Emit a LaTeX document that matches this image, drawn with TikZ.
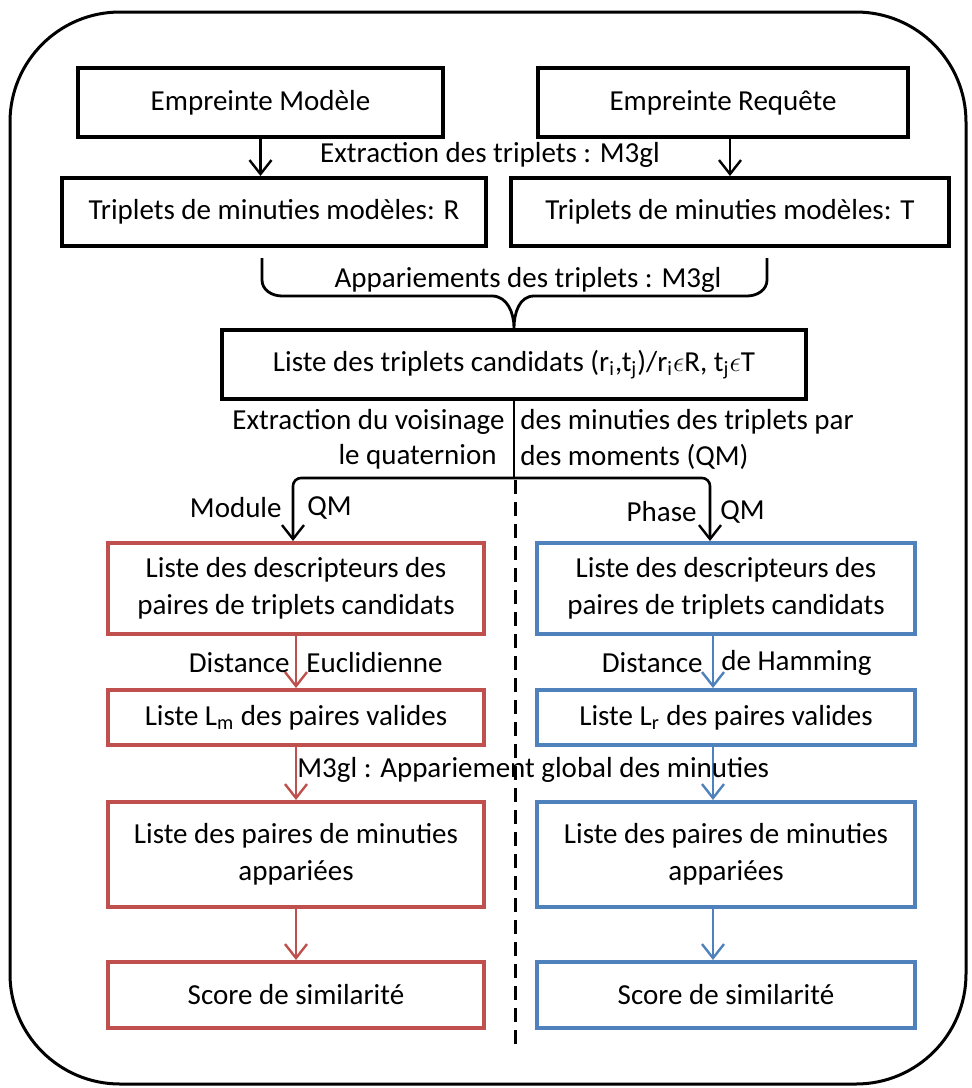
\documentclass[tikz,border=0pt]{standalone}
\usepackage{fontspec}
\setmainfont{Carlito}
\usetikzlibrary{arrows.meta}
\definecolor{redline}{HTML}{C0504D}
\definecolor{blueline}{HTML}{4F81BD}

\begin{document}
\begin{tikzpicture}[x=0.5pt,y=-0.5pt,
  every node/.style={font=\fontsize{14.5}{18.5}\selectfont, inner sep=0pt},
  blackbox/.style={draw=black, line width=2pt, align=center},
  redbox/.style={draw=redline, line width=2pt, align=center, minimum width=188pt},
  bluebox/.style={draw=blueline, line width=2pt, align=center, minimum width=189pt},
  tip/.style={-{Straight Barb[length=7pt,width=11pt,line width=1.2pt]}},
  blackarrow/.style={tip, line width=1.3pt, draw=black},
  redarrow/.style={tip, line width=1.2pt, draw=redline},
  bluearrow/.style={tip, line width=1.2pt, draw=blueline},
  lbl/.style={text=black}
]
\useasboundingbox (0,0) rectangle (972,1088);

% outer frame
\draw[line width=1.5pt, rounded corners=55pt] (10,12) rectangle (966,1084);

% input fingerprints
\node[blackbox, minimum width=182.5pt, minimum height=34.5pt] (em) at (260.5,102.5) {Empreinte Modèle};
\node[blackbox, minimum width=185pt, minimum height=34.5pt] (er) at (723,102.5) {Empreinte Requête};

% triplets
\node[blackbox, minimum width=212pt, minimum height=34pt] (tr) at (274,212) {Triplets de minuties modèles: R};
\node[blackbox, minimum width=219pt, minimum height=34pt] (tt) at (730,212) {Triplets de minuties modèles: T};

\draw[blackarrow] (em.south) -- (em.south |- tr.north);
\draw[blackarrow] (er.south -| tt.north) -- (tt.north);
\node[lbl] (lext) at (490,155) {Extraction des triplets : M3gl};

% candidate triplets
\node[blackbox, minimum width=292pt, minimum height=34.5pt] (cand) at (514,364.5)
  {Liste des triplets candidats (r\textsubscript{i},t\textsubscript{j})/r\textsubscript{i}$\epsilon$R, t\textsubscript{j}$\epsilon$T};

% brace joining both triplet sets
\coordinate (bl) at (262,258);
\coordinate (br) at (767,258);
\draw[line width=1.4pt] (bl) -- (262,280) to[out=-90,in=180] (282,296) -- (492,296)
  to[out=0,in=90] (cand.north) to[out=90,in=180] (534,296) -- (747,296)
  to[out=0,in=-90] (767,280) -- (br);
\node[lbl] (lapp) at (528,280) {Appariements des triplets : M3gl};

% split towards both descriptors
\coordinate (j) at (cand.south |- 0,478);
\coordinate (lx) at (293,0);
\coordinate (rx) at (710,0);
\draw[line width=1.3pt] (cand.south) -- (j);

\node[lbl, anchor=east] (lv1) at (505,422) {Extraction du voisinage};
\node[lbl, anchor=east] (lv2) at (497,457) {le quaternion};
\node[lbl, anchor=west] (rv1) at (520,422) {des minuties des triplets par};
\node[lbl, anchor=west] (rv2) at (520,457) {des moments (QM)};

% separator
\draw[line width=1.5pt, dash pattern=on 7pt off 4pt] (515,480) -- (515,1050);

% red branch
\node[redbox, minimum height=45.5pt] (r1) at (296,588.5) {Liste des descripteurs des\\paires de triplets candidats};
\node[redbox, minimum height=27.5pt] (r2) at (296,717.5) {Liste L\textsubscript{m} des paires valides};
\node[redbox, minimum height=52.5pt] (r3) at (296,854.5) {Liste des paires de minuties\\appariées};
\node[redbox, minimum height=33pt] (r4) at (296,995) {Score de similarité};

% blue branch
\node[bluebox, minimum height=45.5pt] (b1) at (726,588.5) {Liste des descripteurs des\\paires de triplets candidats};
\node[bluebox, minimum height=27.5pt] (b2) at (726,717.5) {Liste L\textsubscript{r} des paires valides};
\node[bluebox, minimum height=52.5pt] (b3) at (726,854.5) {Liste des paires de minuties\\appariées};
\node[bluebox, minimum height=33pt] (b4) at (726,995) {Score de similarité};

\draw[blackarrow, rounded corners=4pt] (j) -| (r1.north -| lx);
\draw[blackarrow, rounded corners=4pt] (j) -| (b1.north -| rx);
\node[lbl, anchor=east] (lmod) at (282,508) {Module};
\node[lbl, anchor=west] (lqm1) at (307,508) {QM};
\node[lbl, anchor=east] (lpha) at (697,512) {Phase};
\node[lbl, anchor=west] (lqm2) at (720,512) {QM};

\coordinate (rl) at (296,0);
\coordinate (bxl) at (713,0);
\draw[redarrow] (r1.south -| rl) -- (r2.north -| rl);
\draw[redarrow] (r2.south -| rl) -- (r3.north -| rl);
\draw[redarrow] (r3.south -| rl) -- (r4.north -| rl);
\draw[bluearrow] (b1.south -| bxl) -- (b2.north -| bxl);
\draw[bluearrow] (b2.south -| bxl) -- (b3.north -| bxl);
\draw[bluearrow] (b3.south -| bxl) -- (b4.north -| bxl);

\node[lbl, anchor=east] (ld1) at (290,663) {Distance};
\node[lbl, anchor=west] (ld2) at (306,663) {Euclidienne};
\node[lbl, anchor=east] (ld3) at (703,663) {Distance};
\node[lbl, anchor=west] (ld4) at (721,663) {de Hamming};
\node[lbl, anchor=west] (lglob) at (297,770) {M3gl : Appariement global des minuties};

\end{tikzpicture}
\end{document}
